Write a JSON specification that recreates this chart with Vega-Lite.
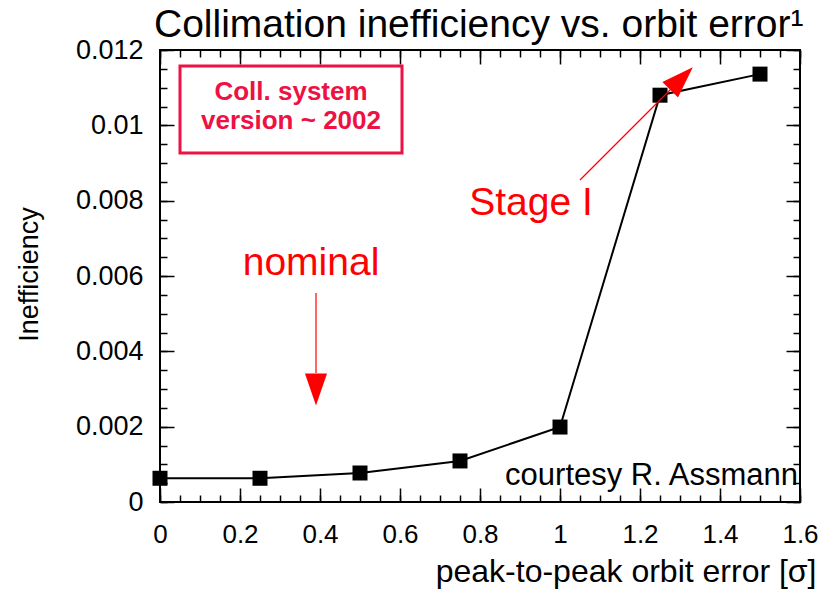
{
  "$schema": "https://vega.github.io/schema/vega-lite/v6.json",
  "width": 640,
  "height": 452,
  "autosize": {"type": "none"},
  "padding": {"left": 160, "top": 50, "right": 34, "bottom": 87},
  "background": "white",
  "title": {
    "text": "Collimation inefficiency vs. orbit error¹",
    "anchor": "start",
    "frame": "group",
    "dx": -6,
    "offset": -40,
    "baseline": "alphabetic",
    "fontSize": 39,
    "fontWeight": "normal",
    "font": "Liberation Sans",
    "color": "black"
  },
  "config": {
    "view": {"stroke": "black", "strokeWidth": 2},
    "axis": {
      "domain": false,
      "grid": false,
      "tickColor": "black",
      "tickWidth": 1.5,
      "labelFlush": false,
      "labelFont": "Liberation Sans",
      "labelColor": "black",
      "titleFont": "Liberation Sans",
      "titleColor": "black",
      "titleFontWeight": "normal"
    }
  },
  "datasets": {
    "main": [
      {"err": 0, "ineff": 0.00063},
      {"err": 0.25, "ineff": 0.00063},
      {"err": 0.5, "ineff": 0.00077},
      {"err": 0.75, "ineff": 0.00109},
      {"err": 1.0, "ineff": 0.00199},
      {"err": 1.25, "ineff": 0.0108},
      {"err": 1.5, "ineff": 0.01136}
    ],
    "box": [{"x1": 0.05, "x2": 0.605, "y1": 0.011575, "y2": 0.009265}],
    "boxtext": [
      {"x": 0.3275, "y": 0.010673, "label": "Coll. system"},
      {"x": 0.3275, "y": 0.009903, "label": "version ~ 2002"}
    ],
    "notes": [
      {"x": 0.3775, "y": 0.006027, "label": "nominal"},
      {"x": 0.9275, "y": 0.00762, "label": "Stage I"}
    ],
    "credit": [{"x": 1.595, "y": 0.000451, "label": "courtesy R. Assmann"}],
    "stageLine": [{"x1": 1.05, "y1": 0.008549, "x2": 1.3025, "y2": 0.01123}],
    "nominalLine": [{"x1": 0.39, "y1": 0.005549, "x2": 0.39, "y2": 0.003425}],
    "stageHead": [{"x": 1.30375, "y": 0.011244}],
    "nominalHead": [{"x": 0.39, "y": 0.002987}]
  },
  "resolve": {
    "scale": {"x": "shared", "y": "shared"},
    "axis": {"x": "independent", "y": "independent"}
  },
  "layer": [
    {
      "data": {"name": "main"},
      "mark": {"type": "line", "color": "black", "strokeWidth": 2},
      "encoding": {
        "x": {
          "field": "err", "type": "quantitative",
          "scale": {"domain": [0, 1.6], "nice": false, "zero": false},
          "axis": {
            "orient": "bottom",
            "values": [0, 0.2, 0.4, 0.6, 0.8, 1, 1.2, 1.4, 1.6],
            "tickSize": -14,
            "labelPadding": 33,
            "labelFontSize": 26,
            "labelExpr": "'' + datum.value",
            "title": "peak-to-peak orbit error [σ]",
            "titleFontSize": 32,
            "titleX": 656,
            "titleY": 79,
            "titleAlign": "right",
            "titleBaseline": "alphabetic"
          }
        },
        "y": {
          "field": "ineff", "type": "quantitative",
          "scale": {"domain": [0, 0.012], "nice": false, "zero": false},
          "axis": {
            "orient": "left",
            "values": [0, 0.002, 0.004, 0.006, 0.008, 0.01, 0.012],
            "tickSize": -14,
            "labelPadding": 31,
            "labelFontSize": 27,
            "labelExpr": "'' + datum.value",
            "title": "Inefficiency",
            "titleFontSize": 27,
            "titleX": -123,
            "titleY": 224,
            "titleAngle": 270,
            "titleAlign": "center",
            "titleBaseline": "alphabetic"
          }
        }
      }
    },
    {
      "data": {"name": "main"},
      "mark": {"type": "point", "shape": "square", "filled": true, "color": "black", "size": 225, "opacity": 1},
      "encoding": {
        "x": {
          "field": "err", "type": "quantitative",
          "scale": {"domain": [0, 1.6], "nice": false, "zero": false},
          "axis": {"orient": "top", "values": [0, 0.2, 0.4, 0.6, 0.8, 1, 1.2, 1.4, 1.6], "tickSize": -14, "labels": false, "title": null}
        },
        "y": {
          "field": "ineff", "type": "quantitative",
          "scale": {"domain": [0, 0.012], "nice": false, "zero": false},
          "axis": {"orient": "right", "values": [0, 0.002, 0.004, 0.006, 0.008, 0.01, 0.012], "tickSize": -14, "labels": false, "title": null}
        }
      }
    },
    {
      "data": {"name": "box"},
      "mark": {"type": "rect", "filled": false, "stroke": "#ee1144", "strokeWidth": 3},
      "encoding": {
        "x": {
          "field": "x1", "type": "quantitative",
          "scale": {"domain": [0, 1.6], "nice": false, "zero": false},
          "axis": {"orient": "bottom", "values": [0,0.05,0.1,0.15,0.2,0.25,0.3,0.35,0.4,0.45,0.5,0.55,0.6,0.65,0.7,0.75,0.8,0.85,0.9,0.95,1,1.05,1.1,1.15,1.2,1.25,1.3,1.35,1.4,1.45,1.5,1.55,1.6], "tickSize": -7, "labels": false, "title": null}
        },
        "x2": {"field": "x2"},
        "y": {
          "field": "y1", "type": "quantitative",
          "scale": {"domain": [0, 0.012], "nice": false, "zero": false},
          "axis": {"orient": "left", "values": [0,0.0005,0.001,0.0015,0.002,0.0025,0.003,0.0035,0.004,0.0045,0.005,0.0055,0.006,0.0065,0.007,0.0075,0.008,0.0085,0.009,0.0095,0.01,0.0105,0.011,0.0115,0.012], "tickSize": -7, "labels": false, "title": null}
        },
        "y2": {"field": "y2"}
      }
    },
    {
      "data": {"name": "notes"},
      "mark": {"type": "text", "font": "Liberation Sans", "fontSize": 39, "color": "#ff0000", "align": "center", "baseline": "alphabetic"},
      "encoding": {
        "x": {
          "field": "x", "type": "quantitative",
          "scale": {"domain": [0, 1.6], "nice": false, "zero": false},
          "axis": {"orient": "top", "values": [0,0.05,0.1,0.15,0.2,0.25,0.3,0.35,0.4,0.45,0.5,0.55,0.6,0.65,0.7,0.75,0.8,0.85,0.9,0.95,1,1.05,1.1,1.15,1.2,1.25,1.3,1.35,1.4,1.45,1.5,1.55,1.6], "tickSize": -7, "labels": false, "title": null}
        },
        "y": {
          "field": "y", "type": "quantitative",
          "scale": {"domain": [0, 0.012], "nice": false, "zero": false},
          "axis": {"orient": "right", "values": [0,0.0005,0.001,0.0015,0.002,0.0025,0.003,0.0035,0.004,0.0045,0.005,0.0055,0.006,0.0065,0.007,0.0075,0.008,0.0085,0.009,0.0095,0.01,0.0105,0.011,0.0115,0.012], "tickSize": -7, "labels": false, "title": null}
        },
        "text": {"field": "label"}
      }
    },
    {
      "data": {"name": "boxtext"},
      "mark": {"type": "text", "font": "Liberation Sans", "fontSize": 26, "fontWeight": "bold", "color": "#ee1144", "align": "center", "baseline": "alphabetic"},
      "encoding": {
        "x": {"field": "x", "type": "quantitative", "axis": null},
        "y": {"field": "y", "type": "quantitative", "axis": null},
        "text": {"field": "label"}
      }
    },
    {
      "data": {"name": "credit"},
      "mark": {"type": "text", "font": "Liberation Sans", "fontSize": 31, "color": "black", "align": "right", "baseline": "alphabetic"},
      "encoding": {
        "x": {"field": "x", "type": "quantitative", "axis": null},
        "y": {"field": "y", "type": "quantitative", "axis": null},
        "text": {"field": "label"}
      }
    },
    {
      "data": {"name": "stageLine"},
      "mark": {"type": "rule", "color": "#ff0000", "strokeWidth": 1.3},
      "encoding": {
        "x": {"field": "x1", "type": "quantitative", "axis": null},
        "y": {"field": "y1", "type": "quantitative", "axis": null},
        "x2": {"field": "x2"},
        "y2": {"field": "y2"}
      }
    },
    {
      "data": {"name": "nominalLine"},
      "mark": {"type": "rule", "color": "#ff6666", "strokeWidth": 2},
      "encoding": {
        "x": {"field": "x1", "type": "quantitative", "axis": null},
        "y": {"field": "y1", "type": "quantitative", "axis": null},
        "x2": {"field": "x2"},
        "y2": {"field": "y2"}
      }
    },
    {
      "data": {"name": "stageHead"},
      "mark": {"type": "point", "shape": "M0,-1L0.69,1L-0.69,1Z", "filled": true, "color": "#ff0000", "opacity": 1, "size": 1024, "angle": 45},
      "encoding": {
        "x": {"field": "x", "type": "quantitative", "axis": null},
        "y": {"field": "y", "type": "quantitative", "axis": null}
      }
    },
    {
      "data": {"name": "nominalHead"},
      "mark": {"type": "point", "shape": "M0,-1L0.69,1L-0.69,1Z", "filled": true, "color": "#ff0000", "opacity": 1, "size": 1024, "angle": 180},
      "encoding": {
        "x": {"field": "x", "type": "quantitative", "axis": null},
        "y": {"field": "y", "type": "quantitative", "axis": null}
      }
    }
  ]
}
